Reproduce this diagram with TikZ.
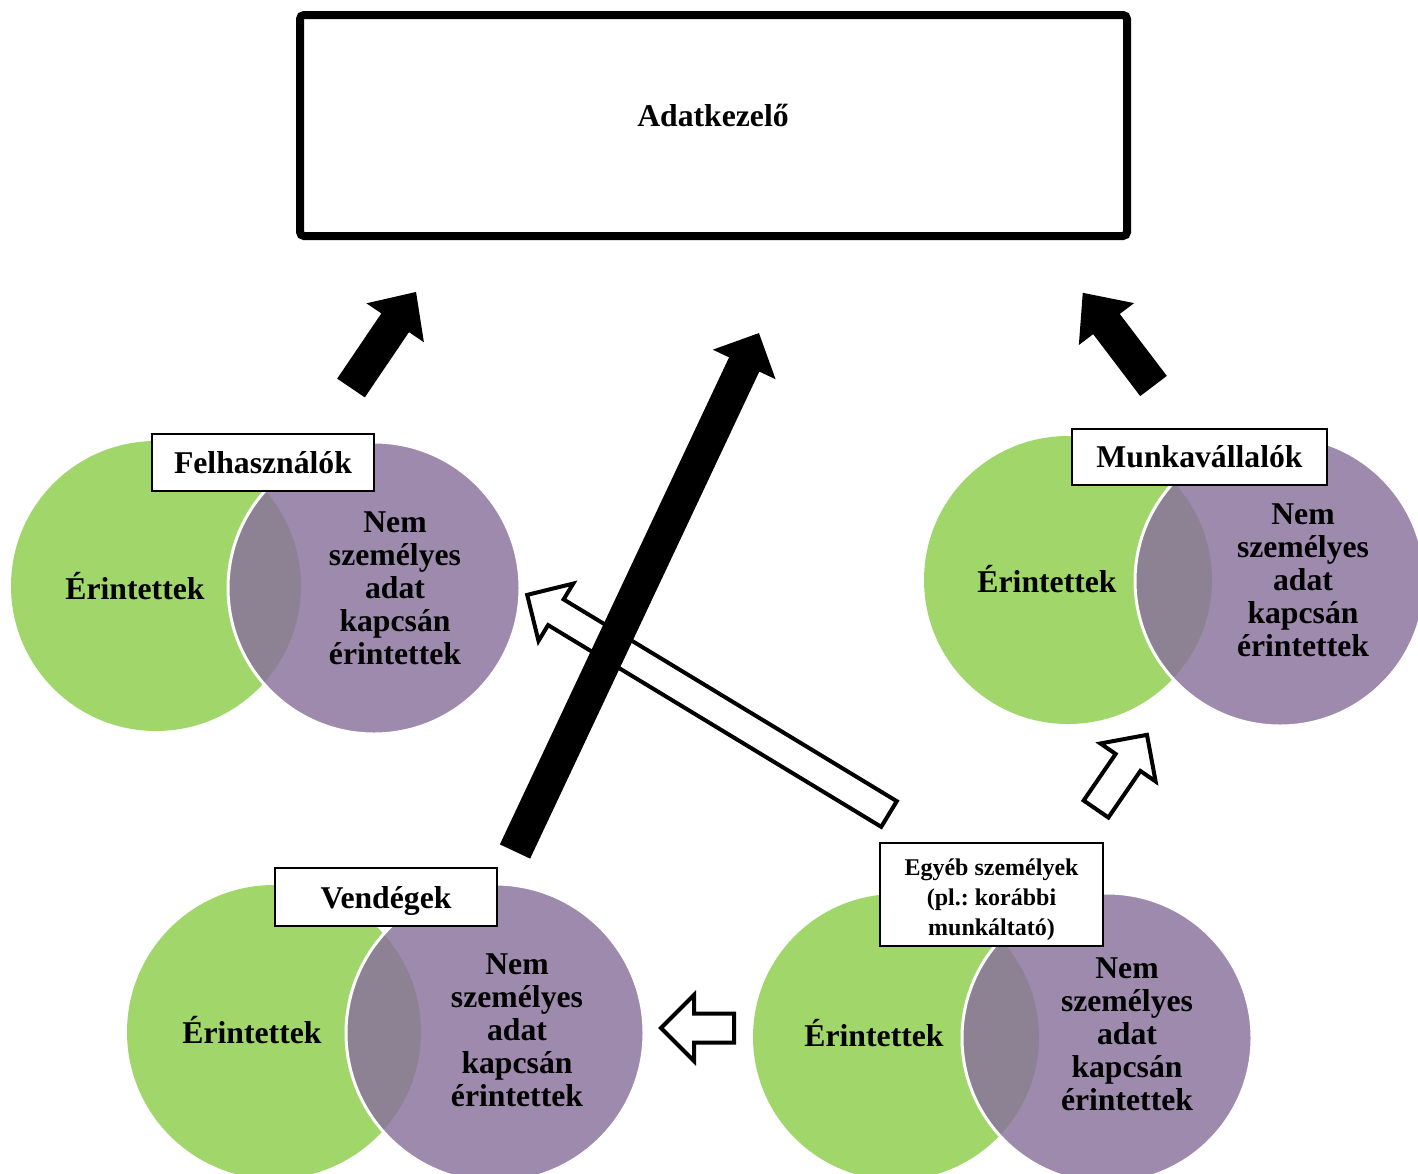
\documentclass[tikz,border=0pt]{standalone}
\usepackage{fontspec}
\setmainfont{Liberation Serif}
\usepackage{tikz}
\usetikzlibrary{shapes.arrows}
\frenchspacing
\definecolor{venngreen}{RGB}{161,214,106}
\definecolor{vennpurple}{RGB}{138,114,156}
\newcommand{\vennfont}{\fontsize{31.7}{33}\selectfont\bfseries}
\newcommand{\smallvennfont}{\fontsize{24}{30}\selectfont\bfseries}
\tikzset{greencirc/.style={circle,fill=venngreen,inner sep=0pt,minimum size=#1},
         purplecirc/.style={circle,fill=vennpurple,fill opacity=0.83,draw=white,line width=3pt,
           inner sep=0pt,minimum size=#1},
         vtext/.style={font=\vennfont,align=center,inner sep=0pt},
         groupbox/.style={draw,line width=1.8pt,fill=white,font=\vennfont,align=center,inner sep=0pt},
         mainbox/.style={draw,line width=8pt,rounded corners=4pt,inner sep=0pt,
           minimum width=827pt,minimum height=221pt},
         thickarrow/.style={single arrow,fill=black,inner sep=0pt,outer sep=0pt,anchor=tail,
           text height=33pt,text depth=0pt,minimum width=69pt,single arrow head extend=18pt},
         hollowarrow/.style={single arrow,fill=white,draw=black,line width=4pt,inner sep=0pt,
           outer sep=0pt,anchor=tail,text height=26pt,text depth=0pt,minimum width=63pt,
           single arrow head extend=18.5pt}}
\begin{document}
\begin{tikzpicture}[x=1pt,y=-1pt]
\useasboundingbox (0,0) rectangle (1418,1173);
\node[mainbox] (adat) at (713.5,125.5) {};
\node[vtext] (adattext) at (713,115) {Adatkezelő};

\node[greencirc=290] (felg) at (156,586) {};
\node[purplecirc=292] (felp) at (374,588) {};
\node[vtext] (felerint) at (135,586) {Érintettek};
\node[vtext] (felnem) at (395,588) {Nem\\személyes\\adat\\kapcsán\\érintettek};
\node[groupbox,minimum width=222pt,minimum height=57pt] (felname) at (263,462.5) {Felhasználók};

\node[greencirc=288] (munkg) at (1068,580) {};
\node[purplecirc=290] (munkp) at (1280,581) {};
\node[vtext] (munkerint) at (1047,579) {Érintettek};
\node[vtext] (munknem) at (1303,580) {Nem\\személyes\\adat\\kapcsán\\érintettek};
\node[groupbox,minimum width=255pt,minimum height=56pt] (munkname) at (1199.5,457) {Munkavállalók};

\node[greencirc=294] (vendg) at (274,1032) {};
\node[purplecirc=298] (vendp) at (495,1033) {};
\node[vtext] (venderint) at (252,1030) {Érintettek};
\node[vtext] (vendnem) at (517,1030) {Nem\\személyes\\adat\\kapcsán\\érintettek};
\node[groupbox,minimum width=222pt,minimum height=58pt] (vendname) at (386,897) {};
\node[vtext] (vendtext) at (386,901) {Vendégek};

\node[greencirc=286] (egyebg) at (896,1037) {};
\node[purplecirc=290] (egyebp) at (1107,1038) {};
\node[vtext] (egyeberint) at (874,1033) {Érintettek};
\node[vtext] (egyebnem) at (1127,1034) {Nem\\személyes\\adat\\kapcsán\\érintettek};
\node[groupbox,minimum width=223pt,minimum height=103pt] (egyebname) at (991.5,894.5) {};
\node[vtext,font=\smallvennfont] (egyebtext) at (991.5,900) {Egyéb személyek\\(pl.: korábbi\\munkáltató)};

\node[hollowarrow,minimum height=423pt,rotate=148.8] (egyebfel) at (889,814) {};
\node[hollowarrow,minimum height=90pt,rotate=55.5] (egyebmunk) at (1096,809) {};
\node[hollowarrow,minimum height=73pt,rotate=180,text height=25pt,minimum width=64pt] (egyebvend)
  at (734,1028) {};
\node[thickarrow,minimum height=116pt,rotate=55.9,single arrow tip angle=86] (felarrow) at (351,388) {};
\node[thickarrow,minimum height=117pt,rotate=127.2,single arrow tip angle=83] (munkarrow) at (1153.5,386) {};
\node[thickarrow,minimum height=573pt,rotate=64.8] (vendarrow) at (515,851.5) {};
\end{tikzpicture}
\end{document}
